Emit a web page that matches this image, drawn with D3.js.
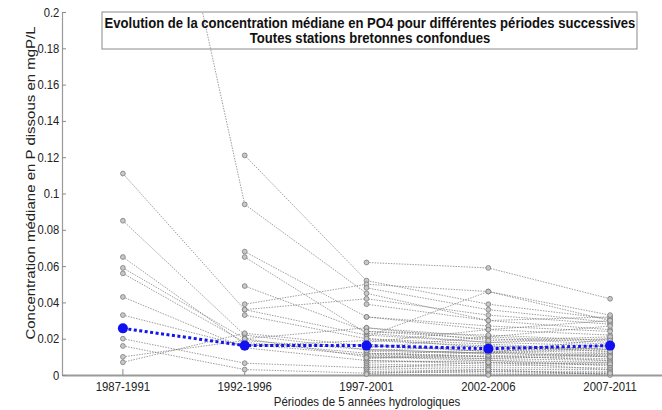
<!DOCTYPE html>
<html><head><meta charset="utf-8">
<script src="https://cdn.jsdelivr.net/npm/d3@7"></script>
<style>
body{margin:0;background:#fff;}
svg{display:block;font-family:"Liberation Sans",Arial,sans-serif;}
</style></head>
<body>
<svg id="chart" width="662" height="410"></svg>
<script>
const periods = ["1987-1991","1992-1996","1997-2001","2002-2006","2007-2011"];
const yTicks = [0,0.02,0.04,0.06,0.08,0.1,0.12,0.14,0.16,0.18,0.2];
const medianValues = [0.0257,0.0162,0.0162,0.0145,0.0162];
const stationValues = [
  [0.40,0.094,0.045,0.030,0.025],
  [0.111,0.036,0.022,0.018,0.020],
  [0.085,0.022,0.014,0.012,0.010],
  [0.065,0.017,0.011,0.009,0.008],
  [0.059,0.020,0.026,0.021,0.018],
  [0.056,0.018,0.012,0.010,0.012],
  [0.043,0.015,0.008,0.007,0.006],
  [0.033,0.016,0.019,0.016,0.014],
  [0.020,0.0065,0.004,0.003,0.003],
  [0.016,0.003,0.001,0.002,0.001],
  [0.010,0.019,0.014,0.012,0.015],
  [0.007,0.023,0.016,0.013,0.011],
  [null,0.121,0.052,0.039,0.031],
  [null,0.068,0.032,0.025,0.022],
  [null,0.065,0.023,0.018,0.016],
  [null,0.049,0.024,0.020,0.017],
  [null,0.039,0.050,0.046,0.030],
  [null,0.036,0.042,0.033,0.028],
  [null,0.033,0.020,0.015,0.013],
  [null,0.020,0.010,0.008,0.007],
  [null,null,0.062,0.059,0.042],
  [null,null,0.048,0.036,0.029],
  [null,null,0.039,0.030,0.032],
  [null,null,0.032,0.027,0.024],
  [null,null,0.021,0.046,0.033],
  [null,null,0.018,0.025,0.030],
  [null,null,0.015,0.021,0.027],
  [null,null,0.013,0.012,0.020],
  [null,null,0.012,0.010,0.009],
  [null,null,0.011,0.014,0.012],
  [null,null,0.010,0.009,0.011],
  [null,null,0.009,0.011,0.008],
  [null,null,0.008,0.006,0.007],
  [null,null,0.007,0.008,0.005],
  [null,null,0.006,0.005,0.006],
  [null,null,0.005,0.004,0.004],
  [null,null,0.004,0.007,0.003],
  [null,null,0.003,0.002,0.002],
  [null,null,0.002,0.001,0.001],
  [null,null,0.001,0.003,0.000],
  [null,null,0.0005,0.000,0.001],
  [null,null,0.017,0.013,0.016],
  [null,null,0.020,0.017,0.014],
  [null,null,0.026,0.019,0.021],
  [null,null,0.024,0.022,0.019],
  [null,null,0.0135,0.016,0.013],
  [null,null,0.0095,0.0125,0.010]
];
const titleLines = ["Evolution de la concentration médiane en PO4 pour différentes périodes successives","Toutes stations bretonnes confondues"];
const yLabel = "Concentration médiane en P dissous en mgP/L";
const xLabel = "Périodes de 5 années hydrologiques";

const svg = d3.select("#chart");
const x = d3.scaleBand().domain(periods).range([62,671]).padding(0);
const y = d3.scaleLinear().domain([0,0.2]).range([375,12]);
const cx = p => x(p) + x.bandwidth()/2;

svg.append("defs").append("clipPath").attr("id","plotclip")
  .append("rect").attr("x",62).attr("y",y(0.2)).attr("width",610).attr("height",y(0)-y(0.2)+6);

// axes
const gx = svg.append("g").attr("transform",`translate(0,${y(0)})`)
  .call(d3.axisBottom(x).tickSizeInner(-6).tickSizeOuter(0).tickPadding(7));
gx.select(".domain").attr("stroke","#9a9a9a").attr("stroke-width",1.8);
gx.selectAll(".tick line").attr("stroke","#8a8a8a");
gx.selectAll("text").attr("font-size","12.5px").attr("fill","#222").attr("transform","scale(0.91,1)");

const gy = svg.append("g").attr("transform",`translate(${x.range()[0]},0)`)
  .call(d3.axisLeft(y).tickValues(yTicks).tickFormat(d=>String(+d.toFixed(2))).tickSizeInner(-4).tickSizeOuter(0).tickPadding(3));
gy.select(".domain").attr("stroke","#9a9a9a").attr("stroke-width",1.2);
gy.selectAll(".tick line").attr("stroke","#8a8a8a");
gy.selectAll("text").attr("font-size","12.5px").attr("fill","#222").attr("transform","scale(0.9,1)");

// station lines
const plot = svg.append("g").attr("clip-path","url(#plotclip)");
const line = d3.line().defined(d=>d.v!=null).x(d=>cx(d.p)).y(d=>y(d.v));
stationValues.forEach(vals=>{
  const pts = vals.map((v,i)=>({p:periods[i],v}));
  plot.append("path").datum(pts).attr("d",line)
    .attr("fill","none").attr("stroke","#6f6f6f").attr("stroke-width",0.8)
    .attr("stroke-dasharray","1.5,1.2").attr("stroke-opacity",0.85);
});
stationValues.forEach(vals=>{
  plot.selectAll(null).data(vals.map((v,i)=>({p:periods[i],v})).filter(d=>d.v!=null && d.v<=0.2))
    .enter().append("circle").attr("cx",d=>cx(d.p)).attr("cy",d=>y(d.v)).attr("r",2.4)
    .attr("fill","#c8c8c8").attr("stroke","#7a7a7a").attr("stroke-width",0.8);
});

// median
const med = medianValues.map((v,i)=>({p:periods[i],v}));
plot.append("path").datum(med).attr("d",line).attr("fill","none")
  .attr("stroke","#1414ee").attr("stroke-width",3).attr("stroke-dasharray","3,2.5");
plot.selectAll(null).data(med).enter().append("circle")
  .attr("cx",d=>cx(d.p)).attr("cy",d=>y(d.v)).attr("r",5).attr("fill","#1010f0");

// title box
svg.append("rect").attr("x",102).attr("y",12).attr("width",535).attr("height",37)
  .attr("fill","none").attr("stroke","#8a8a8a").attr("stroke-width",1);
const gt = svg.append("g").attr("transform","translate(370,0) scale(0.935,1)");
gt.selectAll("text").data(titleLines).enter().append("text")
  .attr("x",0).attr("y",(d,i)=>28+i*15.5).attr("text-anchor","middle")
  .attr("font-size","14px").attr("font-weight","bold").attr("fill","#111").text(d=>d);

// axis labels
svg.append("text").attr("transform","translate(35,183) rotate(-90) scale(1,0.8)").attr("text-anchor","middle")
  .attr("font-size","15px").attr("fill","#222").text(yLabel);
svg.append("text").attr("transform","translate(367,406) scale(0.92,1)").attr("text-anchor","middle")
  .attr("font-size","12.5px").attr("fill","#222").text(xLabel);
</script>
</body></html>
